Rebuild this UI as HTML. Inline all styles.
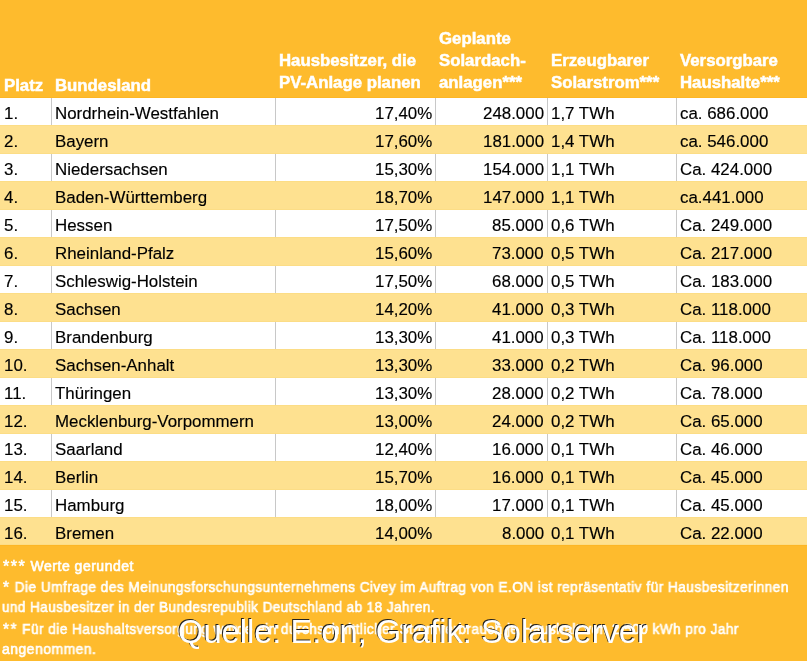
<!DOCTYPE html>
<html><head><meta charset="utf-8"><style>
html,body{margin:0;padding:0;}
.t,.h,.f,.q{will-change:transform;}
body{width:807px;height:661px;position:relative;overflow:hidden;background:#FEBB2D;font-family:"Liberation Sans",sans-serif;}
.r{position:absolute;left:0;width:807px;}
.t{position:absolute;white-space:nowrap;font-size:16.9px;color:#000;line-height:1;letter-spacing:0px;-webkit-text-stroke:0.15px #000;}
.h{position:absolute;white-space:nowrap;font-size:16.8px;color:#fff;font-weight:bold;line-height:1;letter-spacing:0px;-webkit-text-stroke:0.5px #fff;}
.vl{position:absolute;width:1px;background:#c8c8c8;}
.f{position:absolute;white-space:nowrap;font-size:14px;color:#fff;line-height:1;transform-origin:0 0;-webkit-text-stroke:0.6px #fff;word-spacing:0px;letter-spacing:0.5px;}
.q{position:absolute;white-space:nowrap;font-size:32.65px;line-height:1;}
</style></head><body>

<div class="h" style="left:4px;top:77.75px">Platz</div>
<div class="h" style="left:55px;top:77.75px">Bundesland</div>
<div class="h" style="left:279px;top:53.45px">Hausbesitzer, die</div>
<div class="h" style="left:279px;top:75.45px">PV-Anlage planen</div>
<div class="h" style="left:439px;top:31.35px">Geplante</div>
<div class="h" style="left:439px;top:53.45px">Solardach-</div>
<div class="h" style="left:439px;top:75.45px">anlagen***</div>
<div class="h" style="left:551px;top:53.45px">Erzeugbarer</div>
<div class="h" style="left:551px;top:75.45px">Solarstrom***</div>
<div class="h" style="left:680px;top:53.45px">Versorgbare</div>
<div class="h" style="left:680px;top:75.45px">Haushalte***</div>
<div class="r" style="top:98px;height:27px;background:#fff"></div>
<div class="vl" style="left:51px;top:98px;height:27px"></div>
<div class="vl" style="left:275px;top:98px;height:27px"></div>
<div class="vl" style="left:435px;top:98px;height:27px"></div>
<div class="vl" style="left:547px;top:98px;height:27px"></div>
<div class="vl" style="left:676px;top:98px;height:27px"></div>
<div class="t" style="left:4px;top:105.80px">1.</div>
<div class="t" style="left:55px;top:105.80px">Nordrhein-Westfahlen</div>
<div class="t" style="right:375px;top:105.80px">17,40%</div>
<div class="t" style="right:263px;top:105.80px">248.000</div>
<div class="t" style="left:551px;top:105.80px">1,7 TWh</div>
<div class="t" style="left:680px;top:105.80px">ca. 686.000</div>
<div class="r" style="top:125px;height:29px;background:#FEE190"></div>
<div class="r" style="top:125px;height:1px;background:#FCDD86"></div>
<div class="r" style="top:153px;height:1px;background:#FCDD86"></div>
<div class="t" style="left:4px;top:133.80px">2.</div>
<div class="t" style="left:55px;top:133.80px">Bayern</div>
<div class="t" style="right:375px;top:133.80px">17,60%</div>
<div class="t" style="right:263px;top:133.80px">181.000</div>
<div class="t" style="left:551px;top:133.80px">1,4 TWh</div>
<div class="t" style="left:680px;top:133.80px">ca. 546.000</div>
<div class="r" style="top:154px;height:27px;background:#fff"></div>
<div class="vl" style="left:51px;top:154px;height:27px"></div>
<div class="vl" style="left:275px;top:154px;height:27px"></div>
<div class="vl" style="left:435px;top:154px;height:27px"></div>
<div class="vl" style="left:547px;top:154px;height:27px"></div>
<div class="vl" style="left:676px;top:154px;height:27px"></div>
<div class="t" style="left:4px;top:161.80px">3.</div>
<div class="t" style="left:55px;top:161.80px">Niedersachsen</div>
<div class="t" style="right:375px;top:161.80px">15,30%</div>
<div class="t" style="right:263px;top:161.80px">154.000</div>
<div class="t" style="left:551px;top:161.80px">1,1 TWh</div>
<div class="t" style="left:680px;top:161.80px">Ca. 424.000</div>
<div class="r" style="top:181px;height:29px;background:#FEE190"></div>
<div class="r" style="top:181px;height:1px;background:#FCDD86"></div>
<div class="r" style="top:209px;height:1px;background:#FCDD86"></div>
<div class="t" style="left:4px;top:189.80px">4.</div>
<div class="t" style="left:55px;top:189.80px">Baden-Württemberg</div>
<div class="t" style="right:375px;top:189.80px">18,70%</div>
<div class="t" style="right:263px;top:189.80px">147.000</div>
<div class="t" style="left:551px;top:189.80px">1,1 TWh</div>
<div class="t" style="left:680px;top:189.80px">ca.441.000</div>
<div class="r" style="top:210px;height:27px;background:#fff"></div>
<div class="vl" style="left:51px;top:210px;height:27px"></div>
<div class="vl" style="left:275px;top:210px;height:27px"></div>
<div class="vl" style="left:435px;top:210px;height:27px"></div>
<div class="vl" style="left:547px;top:210px;height:27px"></div>
<div class="vl" style="left:676px;top:210px;height:27px"></div>
<div class="t" style="left:4px;top:217.80px">5.</div>
<div class="t" style="left:55px;top:217.80px">Hessen</div>
<div class="t" style="right:375px;top:217.80px">17,50%</div>
<div class="t" style="right:263px;top:217.80px">85.000</div>
<div class="t" style="left:551px;top:217.80px">0,6 TWh</div>
<div class="t" style="left:680px;top:217.80px">Ca. 249.000</div>
<div class="r" style="top:237px;height:29px;background:#FEE190"></div>
<div class="r" style="top:237px;height:1px;background:#FCDD86"></div>
<div class="r" style="top:265px;height:1px;background:#FCDD86"></div>
<div class="t" style="left:4px;top:245.80px">6.</div>
<div class="t" style="left:55px;top:245.80px">Rheinland-Pfalz</div>
<div class="t" style="right:375px;top:245.80px">15,60%</div>
<div class="t" style="right:263px;top:245.80px">73.000</div>
<div class="t" style="left:551px;top:245.80px">0,5 TWh</div>
<div class="t" style="left:680px;top:245.80px">Ca. 217.000</div>
<div class="r" style="top:266px;height:27px;background:#fff"></div>
<div class="vl" style="left:51px;top:266px;height:27px"></div>
<div class="vl" style="left:275px;top:266px;height:27px"></div>
<div class="vl" style="left:435px;top:266px;height:27px"></div>
<div class="vl" style="left:547px;top:266px;height:27px"></div>
<div class="vl" style="left:676px;top:266px;height:27px"></div>
<div class="t" style="left:4px;top:273.80px">7.</div>
<div class="t" style="left:55px;top:273.80px">Schleswig-Holstein</div>
<div class="t" style="right:375px;top:273.80px">17,50%</div>
<div class="t" style="right:263px;top:273.80px">68.000</div>
<div class="t" style="left:551px;top:273.80px">0,5 TWh</div>
<div class="t" style="left:680px;top:273.80px">Ca. 183.000</div>
<div class="r" style="top:293px;height:29px;background:#FEE190"></div>
<div class="r" style="top:293px;height:1px;background:#FCDD86"></div>
<div class="r" style="top:321px;height:1px;background:#FCDD86"></div>
<div class="t" style="left:4px;top:301.80px">8.</div>
<div class="t" style="left:55px;top:301.80px">Sachsen</div>
<div class="t" style="right:375px;top:301.80px">14,20%</div>
<div class="t" style="right:263px;top:301.80px">41.000</div>
<div class="t" style="left:551px;top:301.80px">0,3 TWh</div>
<div class="t" style="left:680px;top:301.80px">Ca. 118.000</div>
<div class="r" style="top:322px;height:27px;background:#fff"></div>
<div class="vl" style="left:51px;top:322px;height:27px"></div>
<div class="vl" style="left:275px;top:322px;height:27px"></div>
<div class="vl" style="left:435px;top:322px;height:27px"></div>
<div class="vl" style="left:547px;top:322px;height:27px"></div>
<div class="vl" style="left:676px;top:322px;height:27px"></div>
<div class="t" style="left:4px;top:329.80px">9.</div>
<div class="t" style="left:55px;top:329.80px">Brandenburg</div>
<div class="t" style="right:375px;top:329.80px">13,30%</div>
<div class="t" style="right:263px;top:329.80px">41.000</div>
<div class="t" style="left:551px;top:329.80px">0,3 TWh</div>
<div class="t" style="left:680px;top:329.80px">Ca. 118.000</div>
<div class="r" style="top:349px;height:29px;background:#FEE190"></div>
<div class="r" style="top:349px;height:1px;background:#FCDD86"></div>
<div class="r" style="top:377px;height:1px;background:#FCDD86"></div>
<div class="t" style="left:4px;top:357.80px">10.</div>
<div class="t" style="left:55px;top:357.80px">Sachsen-Anhalt</div>
<div class="t" style="right:375px;top:357.80px">13,30%</div>
<div class="t" style="right:263px;top:357.80px">33.000</div>
<div class="t" style="left:551px;top:357.80px">0,2 TWh</div>
<div class="t" style="left:680px;top:357.80px">Ca. 96.000</div>
<div class="r" style="top:378px;height:27px;background:#fff"></div>
<div class="vl" style="left:51px;top:378px;height:27px"></div>
<div class="vl" style="left:275px;top:378px;height:27px"></div>
<div class="vl" style="left:435px;top:378px;height:27px"></div>
<div class="vl" style="left:547px;top:378px;height:27px"></div>
<div class="vl" style="left:676px;top:378px;height:27px"></div>
<div class="t" style="left:4px;top:385.80px">11.</div>
<div class="t" style="left:55px;top:385.80px">Thüringen</div>
<div class="t" style="right:375px;top:385.80px">13,30%</div>
<div class="t" style="right:263px;top:385.80px">28.000</div>
<div class="t" style="left:551px;top:385.80px">0,2 TWh</div>
<div class="t" style="left:680px;top:385.80px">Ca. 78.000</div>
<div class="r" style="top:405px;height:29px;background:#FEE190"></div>
<div class="r" style="top:405px;height:1px;background:#FCDD86"></div>
<div class="r" style="top:433px;height:1px;background:#FCDD86"></div>
<div class="t" style="left:4px;top:413.80px">12.</div>
<div class="t" style="left:55px;top:413.80px">Mecklenburg-Vorpommern</div>
<div class="t" style="right:375px;top:413.80px">13,00%</div>
<div class="t" style="right:263px;top:413.80px">24.000</div>
<div class="t" style="left:551px;top:413.80px">0,2 TWh</div>
<div class="t" style="left:680px;top:413.80px">Ca. 65.000</div>
<div class="r" style="top:434px;height:27px;background:#fff"></div>
<div class="vl" style="left:51px;top:434px;height:27px"></div>
<div class="vl" style="left:275px;top:434px;height:27px"></div>
<div class="vl" style="left:435px;top:434px;height:27px"></div>
<div class="vl" style="left:547px;top:434px;height:27px"></div>
<div class="vl" style="left:676px;top:434px;height:27px"></div>
<div class="t" style="left:4px;top:441.80px">13.</div>
<div class="t" style="left:55px;top:441.80px">Saarland</div>
<div class="t" style="right:375px;top:441.80px">12,40%</div>
<div class="t" style="right:263px;top:441.80px">16.000</div>
<div class="t" style="left:551px;top:441.80px">0,1 TWh</div>
<div class="t" style="left:680px;top:441.80px">Ca. 46.000</div>
<div class="r" style="top:461px;height:29px;background:#FEE190"></div>
<div class="r" style="top:461px;height:1px;background:#FCDD86"></div>
<div class="r" style="top:489px;height:1px;background:#FCDD86"></div>
<div class="t" style="left:4px;top:469.80px">14.</div>
<div class="t" style="left:55px;top:469.80px">Berlin</div>
<div class="t" style="right:375px;top:469.80px">15,70%</div>
<div class="t" style="right:263px;top:469.80px">16.000</div>
<div class="t" style="left:551px;top:469.80px">0,1 TWh</div>
<div class="t" style="left:680px;top:469.80px">Ca. 45.000</div>
<div class="r" style="top:490px;height:27px;background:#fff"></div>
<div class="vl" style="left:51px;top:490px;height:27px"></div>
<div class="vl" style="left:275px;top:490px;height:27px"></div>
<div class="vl" style="left:435px;top:490px;height:27px"></div>
<div class="vl" style="left:547px;top:490px;height:27px"></div>
<div class="vl" style="left:676px;top:490px;height:27px"></div>
<div class="t" style="left:4px;top:497.80px">15.</div>
<div class="t" style="left:55px;top:497.80px">Hamburg</div>
<div class="t" style="right:375px;top:497.80px">18,00%</div>
<div class="t" style="right:263px;top:497.80px">17.000</div>
<div class="t" style="left:551px;top:497.80px">0,1 TWh</div>
<div class="t" style="left:680px;top:497.80px">Ca. 45.000</div>
<div class="r" style="top:517px;height:28px;background:#FEE190"></div>
<div class="r" style="top:517px;height:1px;background:#FCDD86"></div>
<div class="r" style="top:544px;height:1px;background:#FCDD86"></div>
<div class="t" style="left:4px;top:525.80px">16.</div>
<div class="t" style="left:55px;top:525.80px">Bremen</div>
<div class="t" style="right:375px;top:525.80px">14,00%</div>
<div class="t" style="right:263px;top:525.80px">8.000</div>
<div class="t" style="left:551px;top:525.80px">0,1 TWh</div>
<div class="t" style="left:680px;top:525.80px">Ca. 22.000</div>
<div class="r" style="top:97px;height:1px;background:#FDB625"></div>
<div class="r" style="top:545px;height:1px;background:#FDB625"></div>
<div class="f" style="left:2px;top:557.60px;transform:scaleX(1.0007)"><span style="font-size:16px;letter-spacing:1.5px;position:relative;top:1px;margin-left:1px">***</span> Werte gerundet</div>
<div class="f" style="left:2px;top:578.70px;transform:scaleX(0.9715)"><span style="font-size:16px;letter-spacing:1.5px;position:relative;top:1px;margin-left:1px">*</span> Die Umfrage des Meinungsforschungsunternehmens Civey im Auftrag von E.ON ist repräsentativ für Hausbesitzerinnen</div>
<div class="f" style="left:2px;top:600.40px;transform:scaleX(0.9591)">und Hausbesitzer in der Bundesrepublik Deutschland ab 18 Jahren.</div>
<div class="f" style="left:2px;top:620.50px;transform:scaleX(0.9684)"><span style="font-size:16px;letter-spacing:1.5px;position:relative;top:1px;margin-left:1px">**</span> Für die Haushaltsversorgung wurde ein durchschnittlicher Stromverbrauch je Haushalt von 2.500 kWh pro Jahr</div>
<div class="f" style="left:2px;top:642.40px;transform:scaleX(0.9943)">angenommen.</div>
<div class="q" style="left:176.6px;top:614.69px;color:#222">Quelle: E.on, Grafik: Solarserver</div>
<div class="q" style="left:177.6px;top:615.69px;color:#fff">Quelle: E.on, Grafik: Solarserver</div>
</body></html>
